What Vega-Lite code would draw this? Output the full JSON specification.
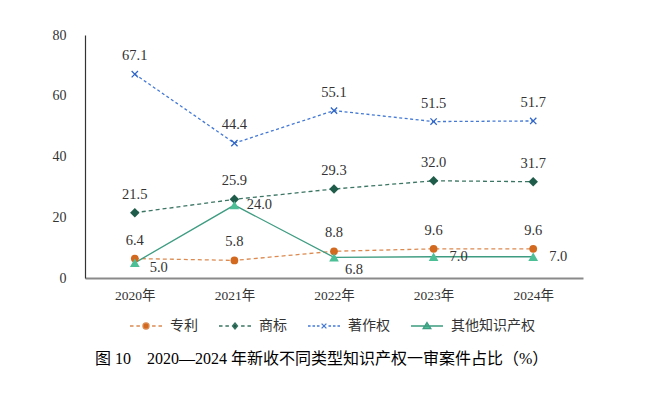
{
  "$schema": "https://vega.github.io/schema/vega-lite/v6.json",
  "width": 498,
  "height": 243,
  "autosize": {"type": "none"},
  "padding": {"left": 85, "top": 35, "right": 85, "bottom": 115},
  "background": "white",
  "data": {
    "values": [
      {"year": "2020年", "series": "专利", "value": 6.4},
      {"year": "2021年", "series": "专利", "value": 5.8},
      {"year": "2022年", "series": "专利", "value": 8.8},
      {"year": "2023年", "series": "专利", "value": 9.6},
      {"year": "2024年", "series": "专利", "value": 9.6},
      {"year": "2020年", "series": "商标", "value": 21.5},
      {"year": "2021年", "series": "商标", "value": 25.9},
      {"year": "2022年", "series": "商标", "value": 29.3},
      {"year": "2023年", "series": "商标", "value": 32.0},
      {"year": "2024年", "series": "商标", "value": 31.7},
      {"year": "2020年", "series": "著作权", "value": 67.1},
      {"year": "2021年", "series": "著作权", "value": 44.4},
      {"year": "2022年", "series": "著作权", "value": 55.1},
      {"year": "2023年", "series": "著作权", "value": 51.5},
      {"year": "2024年", "series": "著作权", "value": 51.7},
      {"year": "2020年", "series": "其他知识产权", "value": 5.0},
      {"year": "2021年", "series": "其他知识产权", "value": 24.0},
      {"year": "2022年", "series": "其他知识产权", "value": 6.8},
      {"year": "2023年", "series": "其他知识产权", "value": 7.0},
      {"year": "2024年", "series": "其他知识产权", "value": 7.0}
    ]
  },
  "title": {
    "text": "图 10　2020—2024 年新收不同类型知识产权一审案件占比（%）",
    "orient": "bottom",
    "anchor": "start",
    "frame": "group",
    "dx": 10,
    "offset": 18,
    "font": "'Liberation Serif', 'Noto Sans CJK SC'",
    "fontSize": 16,
    "fontWeight": "normal",
    "color": "#000"
  },
  "config": {
    "view": {"stroke": null},
    "axis": {"grid": false, "ticks": false, "title": null}
  },
  "encoding": {
    "x": {
      "field": "year",
      "type": "ordinal",
      "scale": {"type": "point", "padding": 0.5},
      "axis": {
        "labelAngle": 0,
        "labelPadding": 10,
        "labelFont": "'Liberation Serif', 'Noto Sans CJK SC'",
        "labelFontSize": 13.5,
        "labelColor": "#333",
        "domainColor": "#8a8a8a",
        "domainWidth": 1.8,
        "ticks": false,
        "title": null
      }
    },
    "y": {
      "field": "value",
      "type": "quantitative",
      "scale": {"domain": [0, 80]},
      "axis": {
        "values": [0, 20, 40, 60, 80],
        "labelPadding": 19,
        "labelFont": "'Liberation Serif', 'Times New Roman', serif",
        "labelFontSize": 14,
        "labelColor": "#333",
        "domainColor": "#333",
        "domainWidth": 1.2,
        "ticks": false,
        "grid": false,
        "title": null
      }
    }
  },
  "layer": [
    {
      "transform": [{"filter": "datum.series === '专利'"}],
      "mark": {"type": "line", "color": "#DC8A50", "strokeWidth": 1.3, "strokeDash": [4, 3]}
    },
    {
      "transform": [{"filter": "datum.series === '商标'"}],
      "mark": {"type": "line", "color": "#3B7563", "strokeWidth": 1.3, "strokeDash": [4, 3]}
    },
    {
      "transform": [{"filter": "datum.series === '著作权'"}],
      "mark": {"type": "line", "color": "#4479D6", "strokeWidth": 1.3, "strokeDash": [3, 2.5]}
    },
    {
      "transform": [{"filter": "datum.series === '其他知识产权'"}],
      "mark": {"type": "line", "color": "#3E9C80", "strokeWidth": 1.3}
    },
    {
      "transform": [{"filter": "datum.series === '专利'"}],
      "mark": {"type": "point", "shape": "circle", "filled": true, "opacity": 1, "fill": "#D2691E", "size": 60}
    },
    {
      "transform": [{"filter": "datum.series === '商标'"}],
      "mark": {"type": "point", "shape": "diamond", "filled": true, "opacity": 1, "fill": "#1F5C4A", "size": 90}
    },
    {
      "transform": [{"filter": "datum.series === '著作权'"}],
      "mark": {"type": "point", "shape": "M-1,-1L1,1M-1,1L1,-1", "filled": false, "opacity": 1, "stroke": "#2F66C8", "strokeWidth": 1.3, "size": 40}
    },
    {
      "transform": [{"filter": "datum.series === '其他知识产权'"}],
      "mark": {"type": "point", "shape": "triangle-up", "filled": true, "opacity": 1, "fill": "#4CBF97", "size": 95}
    },
    {
      "transform": [{"filter": "datum.series !== '其他知识产权'"}],
      "mark": {"type": "text", "dy": -18, "font": "'Liberation Serif', 'Times New Roman', serif", "fontSize": 14.5, "color": "#333"},
      "encoding": {"text": {"field": "value", "type": "quantitative", "format": ".1f"}}
    },
    {
      "transform": [{"filter": "datum.series === '其他知识产权' && (datum.year === '2021年' || datum.year === '2023年' || datum.year === '2024年')"}],
      "mark": {"type": "text", "dx": 25, "dy": 0, "font": "'Liberation Serif', 'Times New Roman', serif", "fontSize": 14.5, "color": "#333"},
      "encoding": {"text": {"field": "value", "type": "quantitative", "format": ".1f"}}
    },
    {
      "transform": [{"filter": "datum.series === '其他知识产权' && datum.year === '2020年'"}],
      "mark": {"type": "text", "dx": 24, "dy": 5, "font": "'Liberation Serif', 'Times New Roman', serif", "fontSize": 14.5, "color": "#333"},
      "encoding": {"text": {"field": "value", "type": "quantitative", "format": ".1f"}}
    },
    {
      "transform": [{"filter": "datum.series === '其他知识产权' && datum.year === '2022年'"}],
      "mark": {"type": "text", "dx": 20, "dy": 13, "font": "'Liberation Serif', 'Times New Roman', serif", "fontSize": 14.5, "color": "#333"},
      "encoding": {"text": {"field": "value", "type": "quantitative", "format": ".1f"}}
    },
    {
      "transform": [{"filter": "false"}],
      "mark": {"type": "point", "filled": true, "opacity": 1},
      "encoding": {
        "fill": {
          "field": "series",
          "type": "nominal",
          "title": null,
          "scale": {"domain": ["专利", "商标", "著作权", "其他知识产权"], "range": ["#D2691E", "#1F5C4A", "#2F66C8", "#4CBF97"]},
          "legend": {
            "title": null,
            "orient": "none",
            "legendX": 44,
            "legendY": 274,
            "direction": "horizontal",
            "symbolSize": 1024,
            "symbolStrokeWidth": 1.3,
            "symbolOpacity": 1,
            "labelFont": "Noto Sans CJK SC",
            "labelFontSize": 14,
            "labelColor": "#333",
            "labelOffset": 7,
            "columnPadding": 18,
            "padding": 0
          }
        },
        "stroke": {
          "field": "series",
          "type": "nominal",
          "title": null,
          "scale": {"domain": ["专利", "商标", "著作权", "其他知识产权"], "range": ["#DC8A50", "#3B7563", "#4479D6", "#3E9C80"]}
        },
        "shape": {
          "field": "series",
          "type": "nominal",
          "title": null,
          "scale": {
            "domain": ["专利", "商标", "著作权", "其他知识产权"],
            "range": [
              "M-1,0H-0.78M-0.6,0H-0.38M-0.19,0A0.19,0.19 0 1,0 0.19,0A0.19,0.19 0 1,0 -0.19,0ZM0.38,0H0.6M0.78,0H1",
              "M-1,0H-0.78M-0.6,0H-0.38M0,-0.19L0.16,0L0,0.19L-0.16,0ZM0.38,0H0.6M0.78,0H1",
              "M-1,0H-0.84M-0.72,0H-0.56M-0.44,0H-0.28M-0.15,-0.15L0.15,0.15M-0.15,0.15L0.15,-0.15M0.28,0H0.44M0.56,0H0.72M0.84,0H1",
              "M-1,0H1M0,-0.22L0.24,0.17L-0.24,0.17Z"
            ]
          }
        }
      }
    }
  ]
}
